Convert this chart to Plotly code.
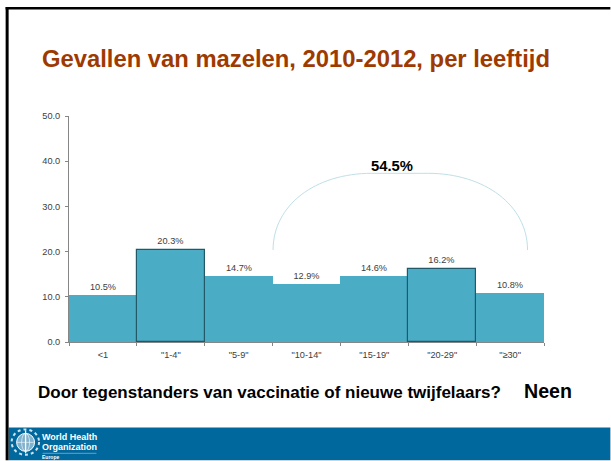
import plotly.graph_objects as go

W, H = 611, 461
categories = ['<1', '"1-4"', '"5-9"', '"10-14"', '"15-19"', '"20-29"', '"≥30"']
values = [10.5, 20.3, 14.7, 12.9, 14.6, 16.2, 10.8]
labels = ['10.5%', '20.3%', '14.7%', '12.9%', '14.6%', '16.2%', '10.8%']
outlined = [False, True, False, False, False, True, False]
y_ticks = [0, 10, 20, 30, 40, 50]

L, R, T, B = 68.5, 544.5, 115.5, 342.3
fx = lambda p: (p - L) / (R - L)
fy = lambda p: (B - p) / (B - T)

fig = go.Figure()
fig.add_bar(
    x=categories, y=values, width=1.0, text=labels, textposition='outside',
    textfont=dict(family='Liberation Sans', size=9.2, color='#404040'), cliponaxis=False,
    marker=dict(color='#4BACC6',
                line=dict(color=['#215968' if o else '#4BACC6' for o in outlined],
                          width=[1.2 if o else 0 for o in outlined])),
    showlegend=False, hoverinfo='skip')

def paper(**kw):
    return dict(xref='paper', yref='paper', **kw)

shapes = [
    paper(type='rect', x0=fx(8), x1=fx(W), y0=fy(428), y1=fy(H),
          fillcolor='#00689D', line_width=0, layer='below'),
    paper(type='rect', x0=fx(5), x1=fx(8), y0=fy(6), y1=fy(H), fillcolor='black', line_width=0),
    paper(type='rect', x0=fx(5), x1=fx(W), y0=fy(6), y1=fy(8.5), fillcolor='black', line_width=0),
    # bracket arc over the 10-14 to >=30 groups
    paper(type='path',
          path=f'M {fx(273)} {fy(250)} C {fx(273)} {fy(205)}, {fx(315)} {fy(173)}, {fx(372)} {fy(173)} '
               f'L {fx(428)} {fy(173)} C {fx(485)} {fy(173)}, {fx(528)} {fy(205)}, {fx(528)} {fy(250)}',
          line=dict(color='#BFE0E6', width=1), fillcolor='rgba(0,0,0,0)'),
    # WHO emblem: wreath, globe and staff
    paper(type='circle', x0=fx(11), x1=fx(38.5), y0=fy(455.5), y1=fy(430),
          line=dict(color='#CFE2EE', width=2, dash='dot'), fillcolor='rgba(0,0,0,0)'),
    paper(type='circle', x0=fx(16), x1=fx(34), y0=fy(452), y1=fy(434),
          line=dict(color='white', width=1), fillcolor='#7FB2CE'),
    paper(type='circle', x0=fx(21), x1=fx(29), y0=fy(452), y1=fy(434),
          line=dict(color='white', width=0.6), fillcolor='rgba(0,0,0,0)'),
    paper(type='line', x0=fx(25), x1=fx(25), y0=fy(454), y1=fy(431), line=dict(color='white', width=1.3)),
    paper(type='line', x0=fx(16), x1=fx(34), y0=fy(443), y1=fy(443), line=dict(color='white', width=0.6)),
    paper(type='line', x0=fx(42), x1=fx(96), y0=fy(454), y1=fy(454), line=dict(color='#7FB2CE', width=0.8)),
]

def note(px, py, text, size, color='black', anchor='left'):
    fig.add_annotation(xref='paper', yref='paper', x=fx(px), y=fy(py), text=f'<b>{text}</b>',
                       showarrow=False, xanchor=anchor, yanchor='middle', borderpad=0, borderwidth=0,
                       font=dict(family='Liberation Sans', size=size, color=color))

note(41.5, 58, 'Gevallen van mazelen, 2010-2012, per leeftijd', 23.8, '#9E3A00')
note(392, 166, '54.5%', 14.8, 'black', anchor='center')
note(37, 392.5, 'Door tegenstanders van vaccinatie of nieuwe twijfelaars?', 17)
note(524, 391, 'Neen', 19.6)
note(41, 438, 'World Health', 9, 'white')
note(41, 448, 'Organization', 9, 'white')
note(41, 457.5, 'Europe', 5, 'white')

tickfont = dict(family='Liberation Sans', size=9.2, color='#404040')
fig.update_layout(
    width=W, height=H, autosize=False, paper_bgcolor='white', plot_bgcolor='white',
    margin=dict(l=L, r=W - R, t=T, b=H - B), shapes=shapes, bargap=0,
    xaxis=dict(type='category', showline=True, linecolor='#868686', linewidth=1, ticks='outside',
               ticklen=3, tickcolor='#868686', tickson='boundaries', showgrid=False,
               ticklabelstandoff=4, tickfont=tickfont),
    yaxis=dict(range=[0, 50], tickvals=y_ticks, tickformat='.1f', showline=True, linecolor='#868686',
               linewidth=1, ticks='outside', ticklen=3, tickcolor='#868686', showgrid=False, zeroline=False,
               ticklabelstandoff=3, tickfont=tickfont),
)
fig.write_html('out.html', config=dict(displayModeBar=False),
               post_script="document.body.style.margin='0';")
